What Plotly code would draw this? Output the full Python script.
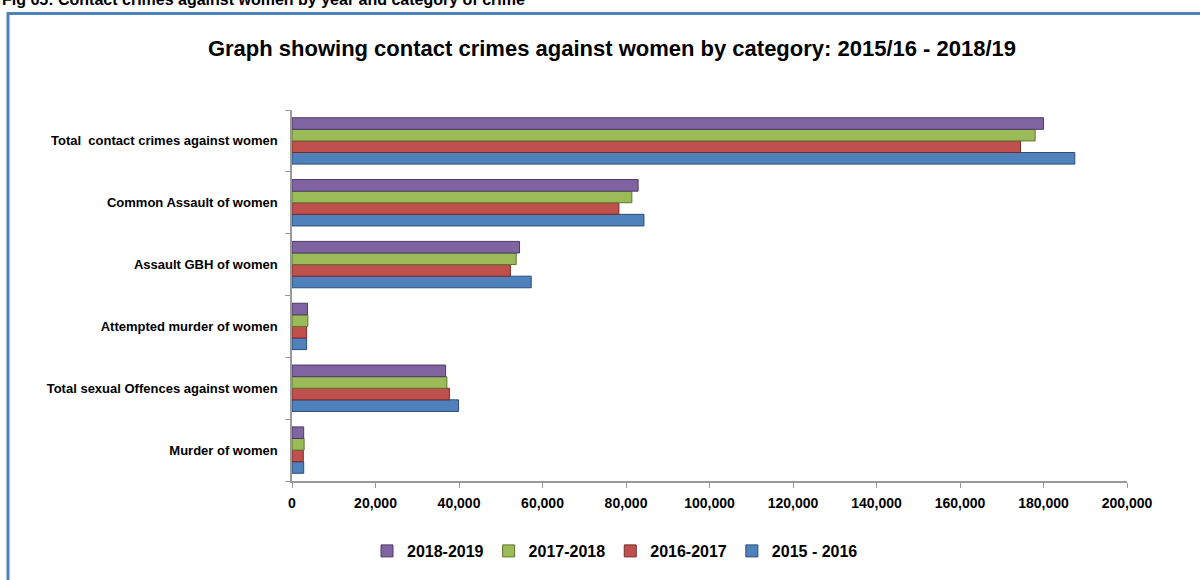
import plotly.graph_objects as go

categories = [
    "Murder of women",
    "Total sexual Offences against women",
    "Attempted murder of women",
    "Assault GBH of women",
    "Common Assault of women",
    "Total  contact crimes against women",
]
series_names = ["2015 - 2016", "2016-2017", "2017-2018", "2018-2019"]
v_2015_16 = [2800, 39900, 3500, 57300, 84300, 187500]
v_2016_17 = [2700, 37700, 3500, 52300, 78300, 174500]
v_2017_18 = [2900, 37100, 3800, 53700, 81400, 178000]
v_2018_19 = [2800, 36800, 3700, 54500, 82900, 180000]
colors = ["#4F81BD", "#C0504D", "#9BBB59", "#8064A2"]
edge_colors = ["#2C4D75", "#772C2A", "#5F7530", "#4D3B62"]
x_ticks = [0, 20000, 40000, 60000, 80000, 100000, 120000, 140000, 160000, 180000, 200000]

values = [v_2015_16, v_2016_17, v_2017_18, v_2018_19]

fig = go.Figure()
for name, vals, col, ec in zip(series_names, values, colors, edge_colors):
    fig.add_trace(go.Bar(
        y=categories, x=vals, name=name, orientation="h",
        marker=dict(color=col, line=dict(color=ec, width=1)),
    ))

font_main = "Liberation Sans, Arial, sans-serif"
L, R, T, B = 292, 73, 110, 99
H = 580 - T - B
W = 1200 - L - R

def px_x(p):
    return (p - L) / W

def px_y(p):
    return (580 - B - p) / H

fig.update_layout(
    width=1200, height=580,
    margin=dict(l=L, r=R, t=T, b=B),
    paper_bgcolor="white", plot_bgcolor="white",
    barmode="group", bargap=0.25, bargroupgap=0,
    font=dict(family=font_main, color="black"),
    title=dict(
        text="<b>Graph showing contact crimes against women by category: 2015/16 - 2018/19</b>",
        x=0.51, xanchor="center", y=1 - 48 / 580, yanchor="middle",
        font=dict(size=22, family=font_main, color="black"),
    ),
    legend=dict(
        orientation="h", traceorder="reversed",
        x=px_x(615), xanchor="center", y=px_y(551), yanchor="middle",
        font=dict(size=16, family=font_main, color="black", weight="bold"),
        itemwidth=30, tracegroupgap=0,
    ),
    xaxis=dict(
        range=[0, 200000], tickvals=x_ticks, tickformat=",",
        showgrid=False, zeroline=False,
        showline=True, linecolor="#9A9A9A", linewidth=1.5,
        ticks="outside", ticklen=5, tickcolor="#9A9A9A",
        tickfont=dict(size=14, family=font_main, color="black", weight="bold"),
        ticklabelstandoff=3,
    ),
    yaxis=dict(
        showgrid=False, zeroline=False,
        showline=True, linecolor="#9A9A9A", linewidth=1.5,
        ticks="outside", ticklen=5, tickcolor="#9A9A9A", tickson="boundaries",
        tickfont=dict(size=13, family=font_main, color="black", weight="bold"),
        ticklabelstandoff=10,
    ),
    shapes=[
        dict(type="rect", xref="paper", yref="paper",
             x0=px_x(8), x1=px_x(1215), y0=px_y(13.5), y1=px_y(600),
             line=dict(color="#4F81BD", width=3), fillcolor="rgba(0,0,0,0)", layer="below"),
    ],
    annotations=[
        dict(text="<b>Fig 65: Contact crimes against women by year and category of crime</b>",
             xref="paper", yref="paper", x=px_x(0), y=px_y(-1), xanchor="left", yanchor="middle",
             showarrow=False, font=dict(size=16, family=font_main, color="black")),
    ],
)

fig.write_html("out.html", config={"displayModeBar": False},
               post_script="document.body.style.margin='0';")
